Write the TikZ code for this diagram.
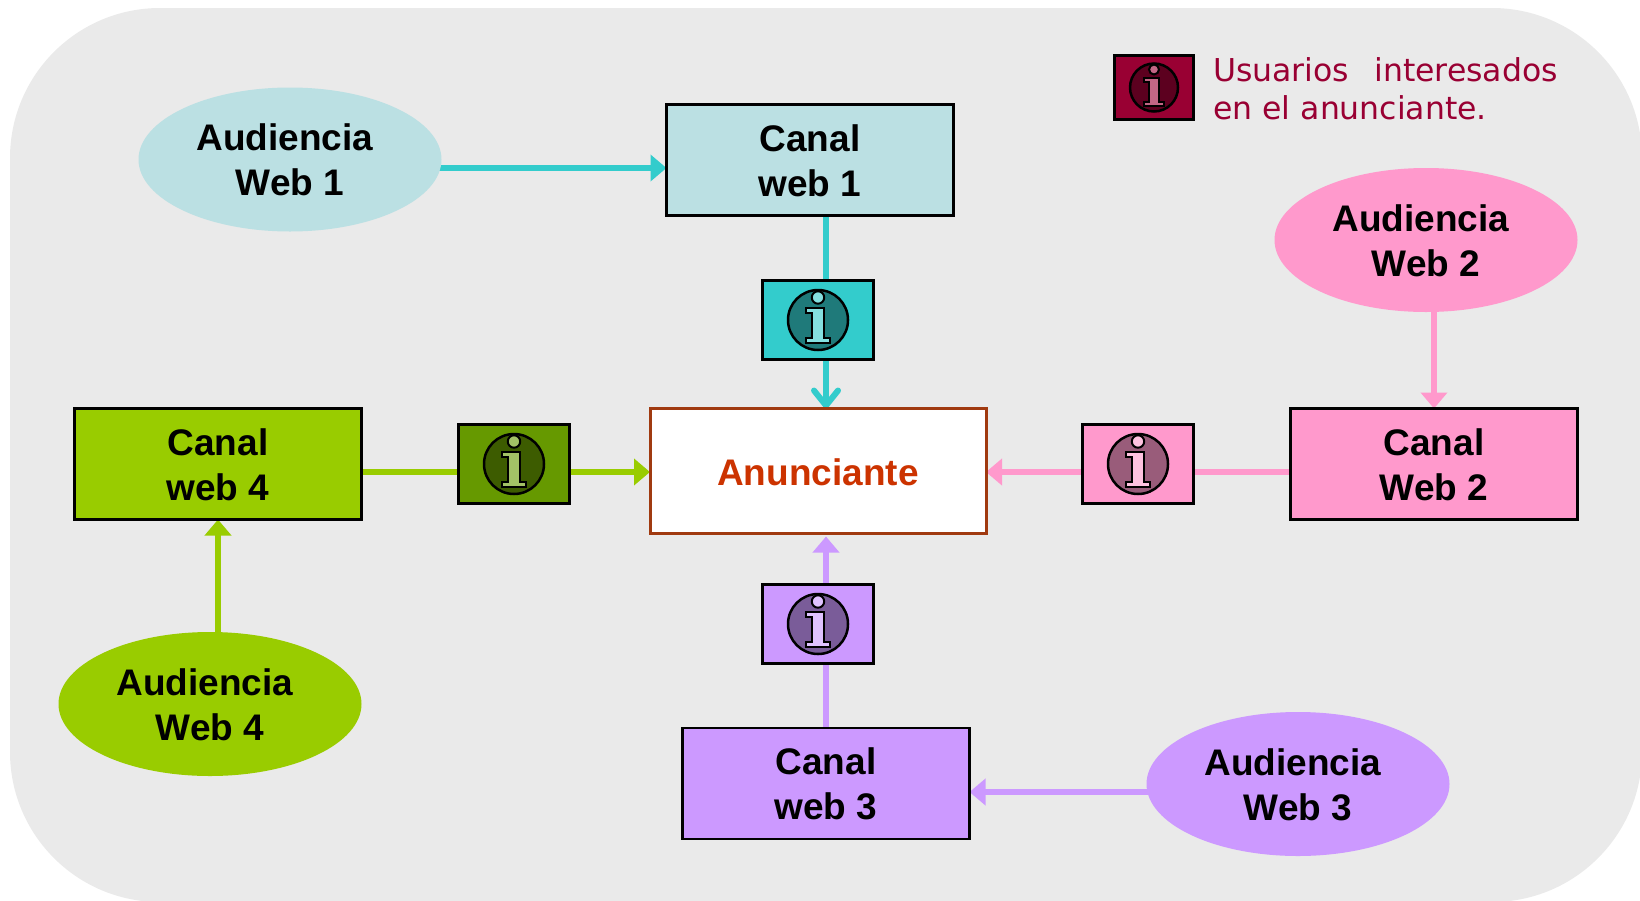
\documentclass[tikz,border=0pt]{standalone}
\usepackage{fontspec}
\setmainfont{Liberation Sans}
\newfontfamily\legendfont{DejaVu Sans}
\usetikzlibrary{arrows.meta,shapes.geometric}
\pgfdeclarelayer{back}
\pgfsetlayers{back,main}
\definecolor{bggray}{HTML}{EAEAEA}
\definecolor{cteal}{HTML}{BBE0E3}
\definecolor{cgreen}{HTML}{99CC00}
\definecolor{cpink}{HTML}{FF99CC}
\definecolor{cviolet}{HTML}{CC99FF}
\definecolor{ccyan}{HTML}{33CCCC}
\definecolor{cdgreen}{HTML}{669900}
\definecolor{cmaroon}{HTML}{990033}
\definecolor{cbrown}{HTML}{A03A10}
\definecolor{cred}{HTML}{CC3300}
\newcommand{\lift}{\rule{0pt}{28.3pt}}
\tikzset{
  x=1pt,y=-1pt,
  labeltext/.style={font=\fontsize{37}{45}\selectfont\bfseries,align=center,text=black,inner sep=0pt},
  canalbox/.style={draw=black,line width=2.8pt,minimum width=287pt,minimum height=111pt,labeltext,outer sep=0pt},
  aud/.style={ellipse,minimum width=303pt,minimum height=144pt,labeltext,outer sep=0pt},
  infobox/.style={draw=black,line width=3pt,minimum width=111pt,minimum height=79pt,inner sep=0pt,outer sep=0pt},
  link/.style={line width=6pt},
  tri/.style={link,-{Triangle[length=16pt,width=26pt]}},
  barb/.style={link,-{Straight Barb[length=15pt,width=24pt,line cap=round,round]}},
}
% #1 position, #2 disc fill, #3 glyph fill, #4 scale
\newcommand{\infoglyph}[4]{%
  \begin{scope}[shift={#1},scale=#4]
    \draw[black,line width=2.5pt,fill=#2] (0,0) circle (30);
    \draw[black,line width=2pt,fill=#3] (-12,-11.7) -- (6.3,-11.7) -- (6.3,18) -- (12,18) -- (12,23) -- (-12,23) -- (-12,18) -- (-6.3,18) -- (-6.3,-6.7) -- (-12,-6.7) -- cycle;
    \draw[black,line width=2pt,fill=#3] (0,-22.5) circle (6.2);
  \end{scope}}
\begin{document}
\begin{tikzpicture}
\useasboundingbox (0,0) rectangle (1640,900);
% audiences
\node[aud,fill=cteal]   (e1) at (290,159.5) {\lift\mbox{Audiencia\ }\\Web 1};
\node[aud,fill=cpink]   (e2) at (1426,240) {\lift\mbox{Audiencia\ }\\Web 2};
\node[aud,fill=cviolet] (e3) at (1298,784) {\lift\mbox{Audiencia\ }\\Web 3};
\node[aud,fill=cgreen]  (e4) at (210,704) {\lift\mbox{Audiencia\ }\\Web 4};
% channels
\node[canalbox,fill=cteal]   (c1) at (810,160) {\lift Canal\\web 1};
\node[canalbox,fill=cpink]   (c2) at (1434,464) {\lift Canal\\Web 2};
\node[canalbox,fill=cviolet] (c3) at (826,783.5) {\lift Canal\\web 3};
\node[canalbox,fill=cgreen]  (c4) at (218,464) {\lift Canal\\web 4};
% advertiser
\node[draw=cbrown,line width=3pt,fill=white,minimum width=336pt,minimum height=125pt,inner sep=0pt,outer sep=0pt,font=\fontsize{37}{45}\selectfont\bfseries,text=cred] (a) at (818,471) {\rule{0pt}{29pt}Anunciante};
% info boxes
\node[infobox,fill=ccyan]   (i1) at (818,320) {};
\node[infobox,fill=cpink]   (i2) at (1138,464) {};
\node[infobox,fill=cviolet] (i3) at (818,624) {};
\node[infobox,fill=cdgreen] (i4) at (514,464) {};
\node[draw=black,line width=3pt,fill=cmaroon,minimum width=79pt,minimum height=64pt,inner sep=0pt,outer sep=0pt] (il) at (1154,87.5) {};
\infoglyph{(i1.center)}{ccyan!60!black}{ccyan!60!white}{1}
\infoglyph{(i2.center)}{cpink!60!black}{cpink!60!white}{1}
\infoglyph{(i3.center)}{cviolet!60!black}{cviolet!60!white}{1}
\infoglyph{(i4.center)}{cdgreen!60!black}{cdgreen!60!white}{1}
\infoglyph{(il.center)}{cmaroon!60!black}{cmaroon!60!white}{0.8}
% legend text
\node[anchor=north west,inner sep=0pt,text=cmaroon,align=left,font=\legendfont\fontsize{31.5}{38}\selectfont] (lg) at (1213,57) {Usuarios\ \ \hspace{5pt}interesados\\en el anunciante.};
\coordinate (vx) at (826,0);
\coordinate (hy) at (0,472);
\begin{pgfonlayer}{back}
\fill[bggray,rounded corners=150pt] (10,8) rectangle (1642,902);
% audience to channel
\draw[tri,ccyan] ([shift={(-3,8.5)}]e1.east) -- (c1.west |- 0,168);
\draw[tri,cpink] (e2.south -| c2.north) -- (c2.north);
\draw[tri,cviolet] ([shift={(3,8)}]e3.west) -- (c3.east |- 0,792);
\draw[tri,cgreen] (e4.north -| c4.south) -- (c4.south);
% channel to advertiser
\draw[link,ccyan] (c1.south -| vx) -- (i1.north -| vx);
\draw[barb,ccyan] (i1.south -| vx) -- (a.north -| vx);
\draw[link,cpink] (c2.west |- hy) -- (i2.east |- hy);
\draw[tri,cpink] (i2.west |- hy) -- (a.east |- hy);
\draw[link,cviolet] (c3.north -| vx) -- (i3.south -| vx);
\draw[tri,cviolet,shorten >=3pt] (i3.north -| vx) -- (a.south -| vx);
\draw[link,cgreen] (c4.east |- hy) -- (i4.west |- hy);
\draw[tri,cgreen] (i4.east |- hy) -- (a.west |- hy);
\end{pgfonlayer}
\end{tikzpicture}
\end{document}
